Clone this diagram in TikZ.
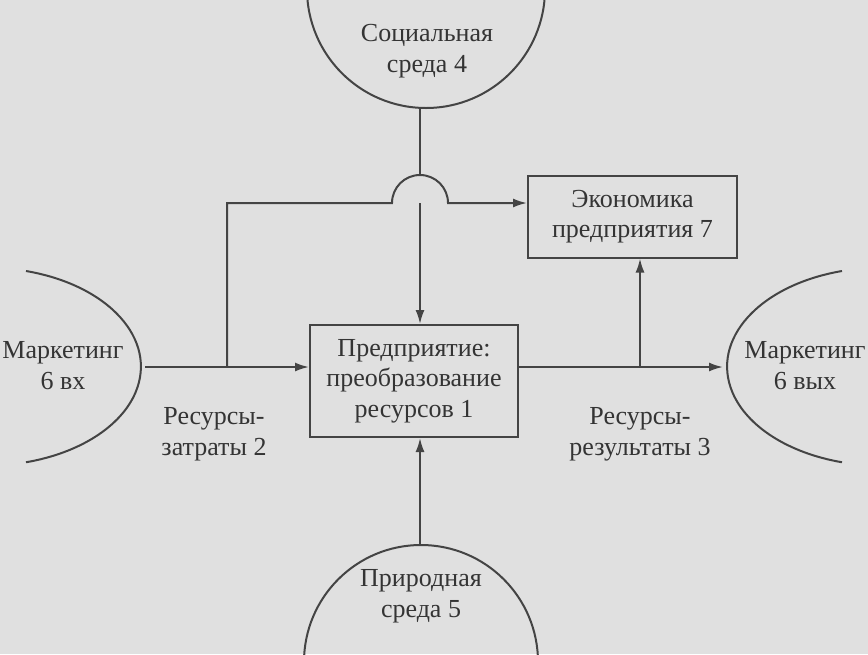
\documentclass[tikz,border=0pt]{standalone}
\usepackage{fontspec}
\setmainfont{Liberation Serif}
\usetikzlibrary{arrows.meta}
\definecolor{bg}{RGB}{224,224,224}
\definecolor{ink}{RGB}{68,68,68}
\definecolor{txt}{RGB}{52,52,52}
\begin{document}
\begin{tikzpicture}[x=1pt,y=-1pt,
  line/.style={draw=ink,line width=2pt},
  arr/.style={line,-{Latex[length=14pt,width=9pt]}},
  box/.style={draw=ink,line width=2pt,align=center,inner sep=0pt,text=txt,
    font=\fontsize{26}{30.5}\selectfont},
  lbl/.style={align=center,text=txt,inner sep=0pt,font=\fontsize{26}{31}\selectfont}]
\fill[bg] (0,0) rectangle (868,654);
\useasboundingbox (0,0) rectangle (868,654);
\clip (0,0) rectangle (868,654);
% environment shapes
\draw[line] (426,-11) circle (119);
\draw[line] (421,662) circle (117);
\draw[line] (26,271) arc[start angle=-75,end angle=75,x radius=155,y radius=99];
\draw[line] (842,271) arc[start angle=255,end angle=105,x radius=155,y radius=99];
% boxes
\node[box,minimum width=208pt,minimum height=112pt] (ent) at (414,381)
  {Предприятие:\\преобразование\\ресурсов 1};
\node[box,minimum width=209pt,minimum height=82pt] (eco) at (632.5,216.5)
  {Экономика\\предприятия 7};
% labels
\node[lbl] (soctxt) at (427,51) {Социальная\\среда 4};
\node[lbl] (nattxt) at (421,596) {Природная\\среда 5};
\node[lbl] (mintxt) at (63,366) {Маркетинг\\6 вх};
\node[lbl] (mouttxt) at (805,366) {Маркетинг\\6 вых};
\node[lbl] (r2) at (214,434) {Ресурсы-\\затраты 2};
\node[lbl] (r3) at (640,434) {Ресурсы-\\результаты 3};
% connection points
\coordinate (mkin) at (145,367);
\coordinate (mkout) at (723,367);
\coordinate (soc) at (420,108);
\coordinate (nat) at (420,545);
\coordinate (j1) at (227,367);
\coordinate (hopL) at (392,203);
\coordinate (hopT) at (420,175);
\coordinate (hopB) at (420,203);
\coordinate (j2) at (640,367);
% connectors
\draw[arr] (mkin) -- (mkin -| ent.west);
\draw[arr] (j1) |- (hopL) arc[start angle=180,end angle=360,radius=28] -- (hopL -| eco.west);
\draw[line] (soc) -- (hopT);
\draw[arr] (hopB) -- (hopB |- ent.north);
\draw[arr] (ent.east |- mkout) -- (mkout);
\draw[arr] (j2) -- (j2 |- eco.south);
\draw[arr] (nat) -- (nat |- ent.south);
\end{tikzpicture}
\end{document}
